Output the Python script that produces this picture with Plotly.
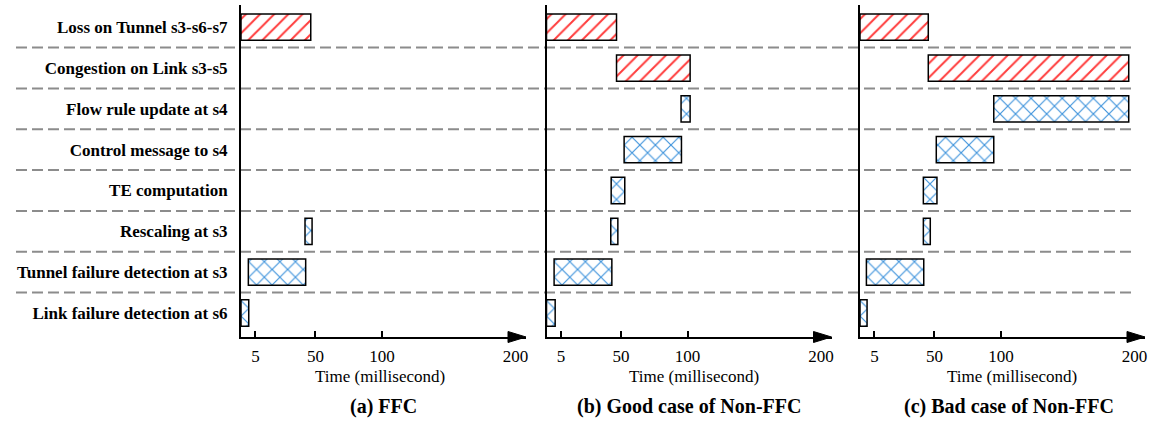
import plotly.graph_objects as go

# Events, listed top to bottom
tasks = [
    "Loss on Tunnel s3-s6-s7",
    "Congestion on Link s3-s5",
    "Flow rule update at s4",
    "Control message to s4",
    "TE computation",
    "Rescaling at s3",
    "Tunnel failure detection at s3",
    "Link failure detection at s6",
]
loss_tasks = ["Loss on Tunnel s3-s6-s7", "Congestion on Link s3-s5"]

# Start / end times (ms) for each scenario; None = event does not occur
ffc_start = [-5.8, None, None, None, None, 42.2, -0.3, -5.8]
ffc_end = [46.5, None, None, None, None, 47.5, 42.7, 0.0]

good_start = [-5.8, 46.7, 95.1, 52.4, 42.7, 42.4, -0.1, -5.8]
good_end = [46.7, 101.9, 101.9, 95.4, 52.9, 47.7, 43.2, 0.7]

bad_start = [-5.8, 45.4, 94.5, 51.4, 41.7, 41.7, -1.0, -5.8]
bad_end = [45.4, 195.7, 195.7, 94.5, 51.9, 46.9, 42.0, -0.5]

tick_vals = [5, 50, 100, 200]
panel_titles = ["(a) FFC", "(b) Good case of Non-FFC", "(c) Bad case of Non-FFC"]
axis_title = "Time (millisecond)"

# ---- styling / layout constants ----
W, H = 1156, 425
PLOT_TOP, PLOT_BOTTOM = 5, 337
X_RANGE = [-5.8, 207.9]
Y_RANGE = [-0.588, 7.544]
PANEL_LEFT = [241, 546.5, 860]
PANEL_WIDTH = 285
TITLE_X = [379.7, 693.5, 1012.3]
CAPTION_X = [383, 689, 1009.3]
FONT = "'Liberation Serif', 'Times New Roman', Times, serif"
RED = "#ff3c3c"
BLUE = "#3f94dc"


def px(pixel_x):
    return pixel_x / W


def py(pixel_y):
    """Pixel row -> paper y fraction."""
    return (PLOT_BOTTOM - pixel_y) / (PLOT_BOTTOM - PLOT_TOP)


fig = go.Figure()
scenarios = [(ffc_start, ffc_end), (good_start, good_end), (bad_start, bad_end)]

for k, (starts, ends) in enumerate(scenarios):
    xa = "x" if k == 0 else f"x{k + 1}"
    ya = "y" if k == 0 else f"y{k + 1}"
    for is_loss in (True, False):
        ys, xs, bs = [], [], []
        for t, s, e in zip(tasks, starts, ends):
            if s is None or (t in loss_tasks) != is_loss:
                continue
            ys.append(t)
            bs.append(s)
            xs.append(e - s)
        fig.add_trace(go.Bar(
            y=ys, x=xs, base=bs, orientation="h", width=0.644,
            xaxis=xa, yaxis=ya, showlegend=False, hoverinfo="skip",
            marker=dict(
                color="white",
                line=dict(color="black", width=1.5),
                pattern=dict(
                    shape="/" if is_loss else "x",
                    fgcolor=RED if is_loss else BLUE,
                    bgcolor="white",
                    size=10 if is_loss else 11,
                    solidity=0.2,
                    fillmode="replace",
                ),
            ),
        ))

layout = dict(
    width=W, height=H,
    margin=dict(l=0, r=0, t=PLOT_TOP, b=H - PLOT_BOTTOM, autoexpand=False),
    paper_bgcolor="white", plot_bgcolor="white",
    font=dict(family=FONT, color="black"),
    barmode="overlay",
)

for k in range(3):
    sfx = "" if k == 0 else str(k + 1)
    left = PANEL_LEFT[k]
    layout["xaxis" + sfx] = dict(
        domain=[px(left), px(left + PANEL_WIDTH)],
        range=X_RANGE, anchor="y" + sfx,
        showline=True, linecolor="black", linewidth=2,
        showgrid=False, zeroline=False,
        tickvals=tick_vals, ticks="", ticklabelstandoff=3,
        tickfont=dict(family=FONT, size=17, color="black"),
        minor=dict(tickvals=tick_vals[:-1], ticks="inside", ticklen=6,
                   tickwidth=2, tickcolor="black", showgrid=False),
        fixedrange=True,
    )
    layout["yaxis" + sfx] = dict(
        domain=[0, 1], range=Y_RANGE, anchor="x" + sfx,
        type="category", categoryorder="array", categoryarray=tasks[::-1],
        showline=True, linecolor="black", linewidth=2,
        showgrid=False, zeroline=False, ticks="",
        showticklabels=(k == 0), ticklabelstandoff=8,
        tickfont=dict(family=FONT, size=17, color="black", weight="bold"),
        automargin=False, fixedrange=True,
    )

fig.update_layout(**layout)

# dashed separators between rows, running across all panels
for i in range(len(tasks) - 1):
    fig.add_shape(type="line", xref="paper", yref="y",
                  x0=px(16), x1=px(1136), y0=i + 0.5, y1=i + 0.5,
                  line=dict(color="#8c8c8c", width=2, dash="11px,5px"),
                  layer="below")

# arrowheads at the end of each time axis
for k in range(3):
    tip = PANEL_LEFT[k] + PANEL_WIDTH
    base = tip - 18
    y0 = py(PLOT_BOTTOM)
    dy = 5.5 / (PLOT_BOTTOM - PLOT_TOP)
    fig.add_shape(type="path", xref="paper", yref="paper",
                  path=f"M {px(base)},{y0 - dy} L {px(tip)},{y0} L {px(base)},{y0 + dy} Z",
                  fillcolor="black", line=dict(color="black", width=1))

# axis titles and panel captions
for k in range(3):
    fig.add_annotation(text=axis_title, xref="paper", yref="paper",
                       x=px(TITLE_X[k]), y=py(376.7), showarrow=False,
                       xanchor="center", yanchor="middle",
                       font=dict(family=FONT, size=17, color="black"))
    fig.add_annotation(text=panel_titles[k], xref="paper", yref="paper",
                       x=px(CAPTION_X[k]), y=py(406), showarrow=False,
                       xanchor="center", yanchor="middle",
                       font=dict(family=FONT, size=20, color="black", weight="bold"))

fig.write_html("out.html")
